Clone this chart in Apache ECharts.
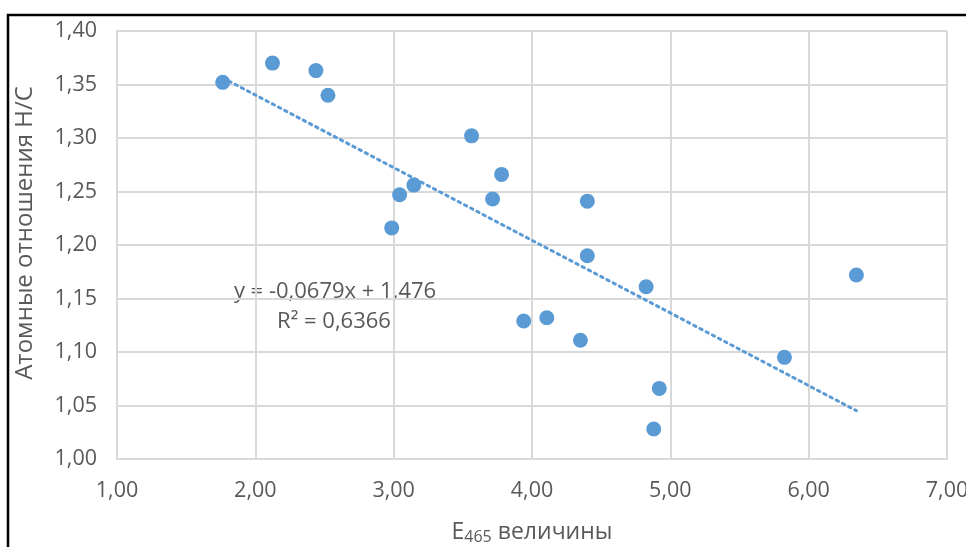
<!DOCTYPE html>
<html>
<head>
<meta charset="utf-8">
<script src="https://cdn.jsdelivr.net/npm/echarts@6/dist/echarts.min.js"></script>
<style>
html,body{margin:0;padding:0;background:#fff;}
#chart{width:966px;height:547px;}
</style>
</head>
<body>
<div id="chart"></div>
<script>
// E465 values (x) and H/C atomic ratios (y)
const e465 = [1.764, 2.124, 2.438, 2.525, 3.563, 3.780, 3.146, 3.043, 3.715, 2.986,
              4.400, 4.400, 4.825, 6.345, 3.940, 4.107, 4.350, 5.825, 4.920, 4.880];
const hc   = [1.352, 1.370, 1.363, 1.340, 1.302, 1.266, 1.256, 1.247, 1.243, 1.216,
              1.241, 1.190, 1.161, 1.172, 1.129, 1.132, 1.111, 1.095, 1.066, 1.028];
const trendSlope = -0.0679;
const trendIntercept = 1.476;
const equationText = 'y = -0,0679x + 1,476';
const r2Text = 'R² = 0,6366';
const xTicks = {min: 1, max: 7, interval: 1};
const yTicks = {min: 1.0, max: 1.4, interval: 0.05};

const points = e465.map((x, i) => [x, hc[i]]);
const xMin = Math.min(...e465), xMax = Math.max(...e465);
const trend = [[xMin, trendSlope * xMin + trendIntercept], [xMax, trendSlope * xMax + trendIntercept]];

const fmt = v => v.toFixed(2).replace('.', ',');
const FONT = '"Open Sans", sans-serif';
const TXT = '#595959';
const GRID = '#d9d9d9';

const chart = echarts.init(document.getElementById('chart'));
chart.setOption({
  animation: false,
  backgroundColor: '#fff',
  grid: {left: 117, right: 19, top: 31, bottom: 88, containLabel: false, outerBoundsMode: 'none'},
  xAxis: {
    type: 'value', min: xTicks.min, max: xTicks.max, interval: xTicks.interval,
    axisLine: {show: true, lineStyle: {color: GRID, width: 2}},
    axisTick: {show: false},
    splitLine: {show: true, lineStyle: {color: GRID, width: 2}},
    axisLabel: {formatter: fmt, color: TXT, fontSize: 21.5, fontFamily: FONT, margin: 21},
    name: '{a|E}{s|465}{a| величины}',
    nameLocation: 'middle', nameGap: 60,
    nameTextStyle: {
      rich: {
        a: {fontSize: 23, color: TXT, fontFamily: FONT},
        s: {fontSize: 16, color: TXT, fontFamily: FONT, verticalAlign: 'bottom', padding: [10, 0, 0, 0]}
      }
    }
  },
  yAxis: {
    type: 'value', min: yTicks.min, max: yTicks.max, interval: yTicks.interval,
    axisLine: {show: true, lineStyle: {color: GRID, width: 2}},
    axisTick: {show: false},
    splitLine: {show: true, lineStyle: {color: GRID, width: 2}},
    axisLabel: {formatter: fmt, color: TXT, fontSize: 21.5, fontFamily: FONT, margin: 20},
    name: 'Атомные отношения H/C',
    nameLocation: 'middle', nameGap: 80,
    nameTextStyle: {fontSize: 24, color: TXT, fontFamily: FONT, padding: [0, 0, 0, 24]}
  },
  series: [
    {
      type: 'line', data: trend, showSymbol: false, symbol: 'none', z: 1,
      lineStyle: {color: '#5b9bd5', width: 3, type: [2.5, 4.5], cap: 'round'}
    },
    {
      type: 'scatter', data: points, symbolSize: 15, z: 3,
      itemStyle: {color: '#5b9bd5', opacity: 1}
    }
  ],
  graphic: [
    {type: 'line', shape: {x1: 7, y1: 15, x2: 966, y2: 15}, style: {stroke: '#000', lineWidth: 2.5}},
    {type: 'line', shape: {x1: 8, y1: 14, x2: 8, y2: 547}, style: {stroke: '#000', lineWidth: 2.5}},
    {type: 'text', x: 335, y: 292, style: {text: equationText, fill: TXT, font: '22px ' + FONT, align: 'center', verticalAlign: 'middle'}},
    {type: 'text', x: 334, y: 322, style: {text: r2Text, fill: TXT, font: '22px ' + FONT, align: 'center', verticalAlign: 'middle'}}
  ]
});
</script>
</body>
</html>
